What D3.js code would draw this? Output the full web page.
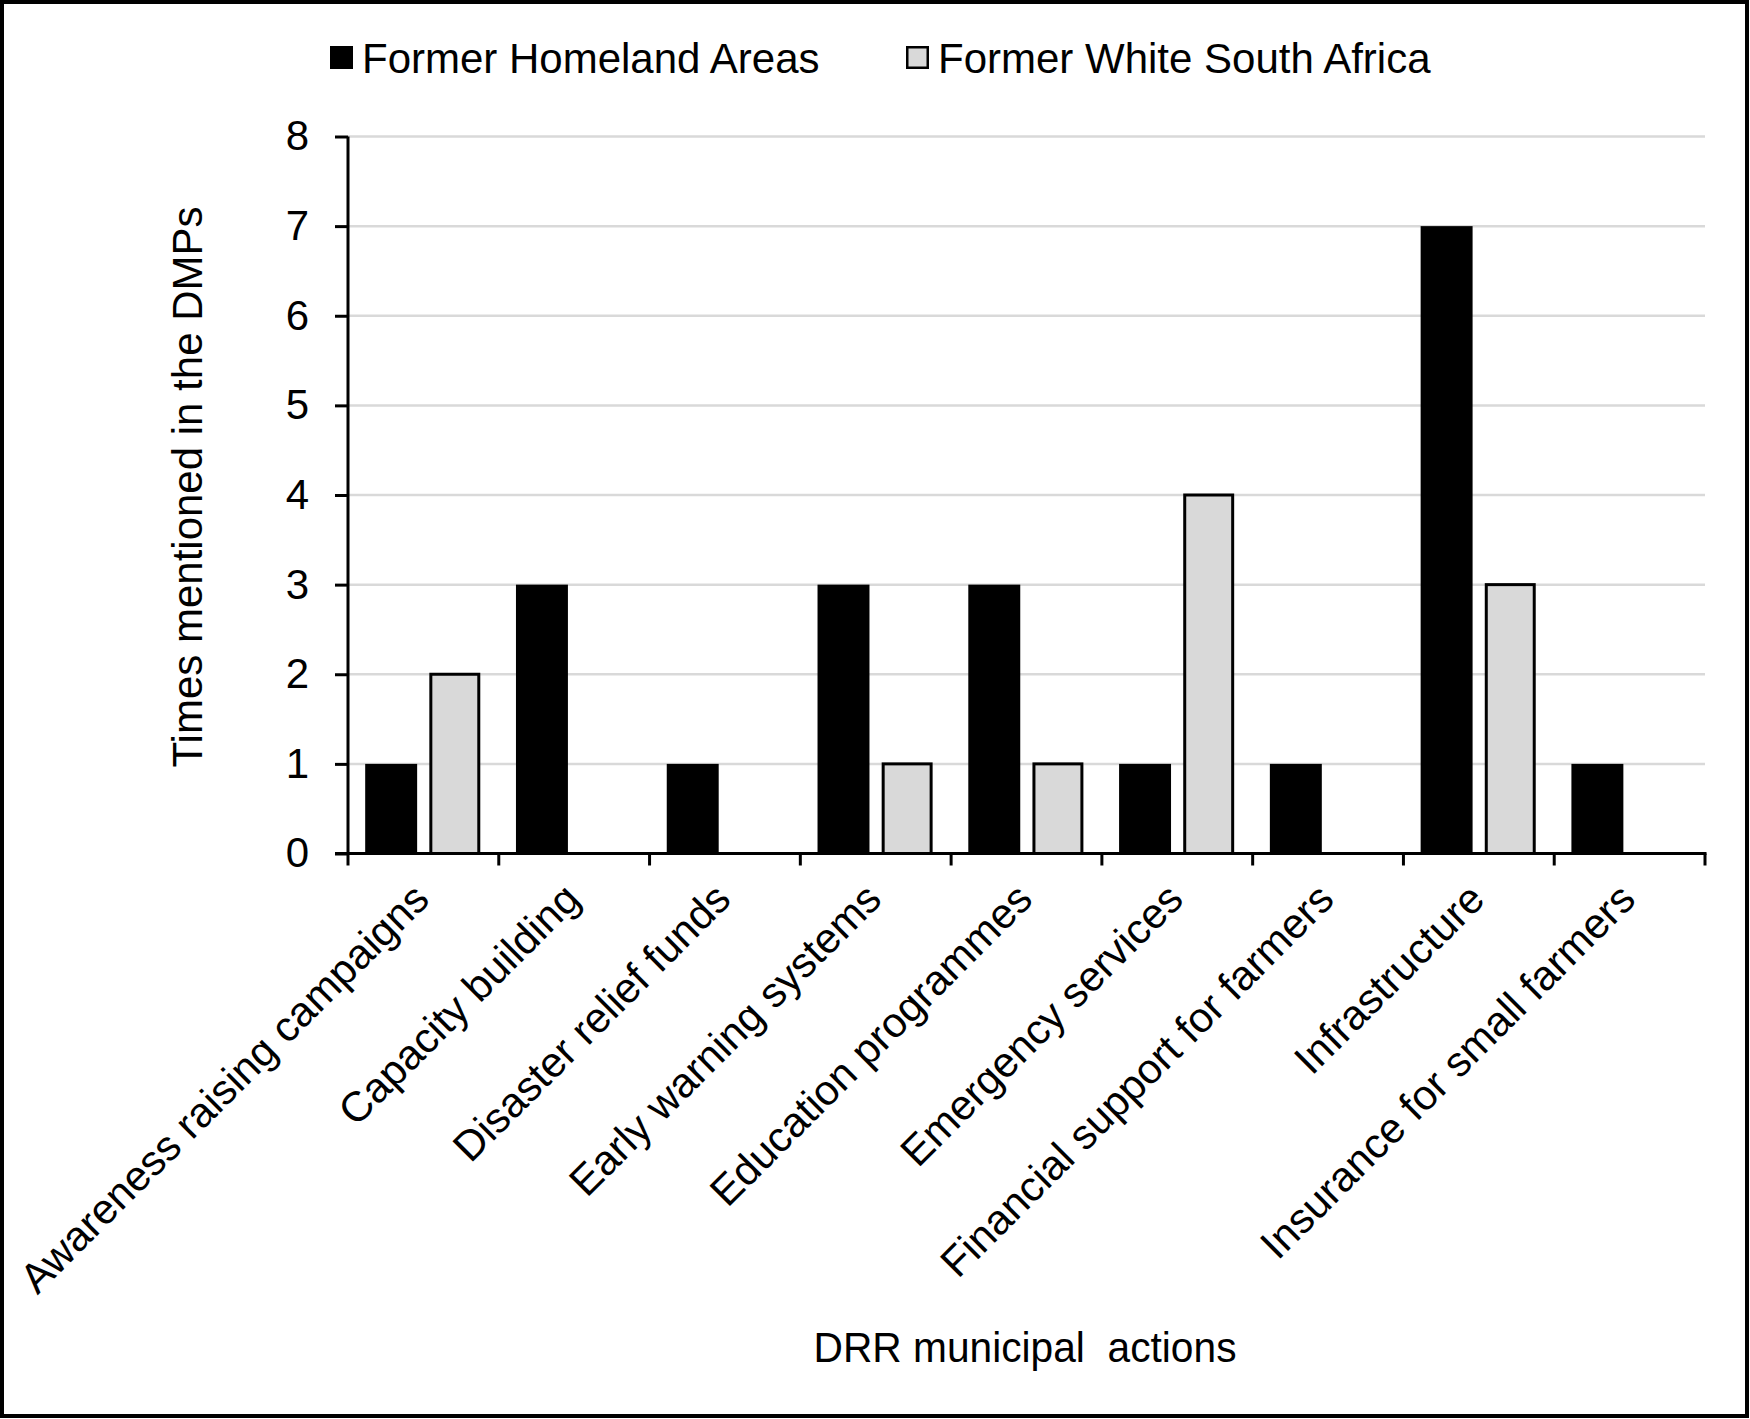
<!DOCTYPE html>
<html>
<head>
<meta charset="utf-8">
<title>DRR municipal actions</title>
<script src="https://d3js.org/d3.v7.min.js"></script>
<style>
body { margin: 0; background: #fff; }
svg { display: block; font-family: 'Liberation Sans', Arial, sans-serif; }
</style>
</head>
<body>
<svg id="chart" width="1750" height="1419"></svg>
<script>

var categories = ["Awareness raising campaigns", "Capacity building", "Disaster relief funds",
  "Early warning systems", "Education programmes", "Emergency services",
  "Financial support for farmers", "Infrastructure", "Insurance for small farmers"];
var series = ["Former Homeland Areas", "Former White South Africa"];
var homeland = [1, 3, 1, 3, 3, 1, 1, 7, 1];
var whiteSA = [2, 0, 0, 1, 1, 4, 0, 3, 0];
var yTicks = [0, 1, 2, 3, 4, 5, 6, 7, 8];
var colors = ["#000000", "#d9d9d9"];

var svg = d3.select("#chart");

// outer frame
svg.append("rect")
  .attr("x", 2).attr("y", 2)
  .attr("width", 1745).attr("height", 1414)
  .attr("fill", "none").attr("stroke", "#000").attr("stroke-width", 4);

var plotLeft = 348, plotRight = 1705, plotTop = 136.5, plotBottom = 853.5;

var x0 = d3.scaleBand().domain(categories).range([plotLeft, plotRight]).paddingInner(0).paddingOuter(0);
var bw = x0.bandwidth();
var x1 = d3.scaleBand().domain(series).range([bw * 0.114, bw * 0.884]).paddingInner(0.19);
var y = d3.scaleLinear().domain([0, 8]).range([plotBottom, plotTop]);

// gridlines
svg.append("g").selectAll("line").data(yTicks.slice(1)).join("line")
  .attr("x1", plotLeft).attr("x2", plotRight)
  .attr("y1", d => y(d)).attr("y2", d => y(d))
  .attr("stroke", "#d9d9d9").attr("stroke-width", 2.5);

// bars
var rows = categories.map((c, i) => ({ cat: c, vals: [homeland[i], whiteSA[i]] }));
var groups = svg.append("g").selectAll("g").data(rows).join("g")
  .attr("transform", d => "translate(" + x0(d.cat) + ",0)");
groups.selectAll("rect")
  .data(d => d.vals.map((v, k) => ({ s: series[k], k: k, v: v })).filter(e => e.v > 0))
  .join("rect")
  .attr("x", e => x1(e.s) + (e.k === 1 ? 1.5 : 0))
  .attr("width", e => x1.bandwidth() - (e.k === 1 ? 4 : 0))
  .attr("y", e => y(e.v))
  .attr("height", e => y(0) - y(e.v))
  .attr("fill", e => colors[e.k])
  .attr("stroke", "#000")
  .attr("stroke-width", e => e.k === 1 ? 3 : 0);

// y axis
var yAxis = svg.append("g")
  .attr("transform", "translate(" + plotLeft + ",0)")
  .call(d3.axisLeft(y).tickValues(yTicks).tickSize(13).tickPadding(26).tickFormat(d3.format("d")));
yAxis.select(".domain").attr("stroke", "#000").attr("stroke-width", 3).attr("d", "M0," + plotTop + "V" + plotBottom);
yAxis.selectAll(".tick line").attr("stroke", "#000").attr("stroke-width", 3);
yAxis.selectAll(".tick text").attr("font-size", 42).attr("fill", "#000")
  .attr("font-family", "'Liberation Sans', Arial, sans-serif");

// x axis
var bounds = categories.map(c => x0(c)).concat([plotRight]);
var xg = svg.append("g");
xg.append("line").attr("x1", plotLeft - 13).attr("x2", plotRight + 1.5)
  .attr("y1", plotBottom).attr("y2", plotBottom)
  .attr("stroke", "#000").attr("stroke-width", 3);
xg.selectAll("line.tk").data(bounds).join("line").attr("class", "tk")
  .attr("x1", d => d).attr("x2", d => d)
  .attr("y1", plotBottom).attr("y2", plotBottom + 12)
  .attr("stroke", "#000").attr("stroke-width", 3);

// category labels
svg.append("g").selectAll("text").data(categories).join("text")
  .attr("transform", d => "translate(" + (x0(d) + bw / 2 + 8) + "," + (plotBottom + 48) + ") rotate(-45)")
  .attr("text-anchor", "end")
  .attr("font-size", 42)
  .attr("fill", "#000")
  .text(d => d);

// axis titles
svg.append("text")
  .attr("transform", "translate(202," + ((plotTop + plotBottom) / 2 - 8) + ") rotate(-90)")
  .attr("text-anchor", "middle")
  .attr("font-size", 42)
  .text("Times mentioned in the DMPs");

svg.append("text")
  .attr("x", 1025).attr("y", 1362)
  .attr("text-anchor", "middle")
  .attr("font-size", 42)
  .attr("textLength", 423)
  .attr("lengthAdjust", "spacingAndGlyphs")
  .style("white-space", "pre")
  .text("DRR municipal  actions");

// legend
var legendX = [330, 906];
var lg = svg.append("g").selectAll("g").data(series).join("g")
  .attr("transform", (d, i) => "translate(" + legendX[i] + ",0)");
lg.append("rect")
  .attr("x", (d, i) => i === 1 ? 1.25 : 0)
  .attr("y", (d, i) => i === 1 ? 47.25 : 46)
  .attr("width", (d, i) => i === 1 ? 20.5 : 23)
  .attr("height", (d, i) => i === 1 ? 20.5 : 23)
  .attr("fill", (d, i) => colors[i])
  .attr("stroke", "#000")
  .attr("stroke-width", (d, i) => i === 1 ? 2.5 : 0);
lg.append("text")
  .attr("x", 32).attr("y", 73)
  .attr("font-size", 42)
  .text(d => d);

</script>
</body>
</html>
